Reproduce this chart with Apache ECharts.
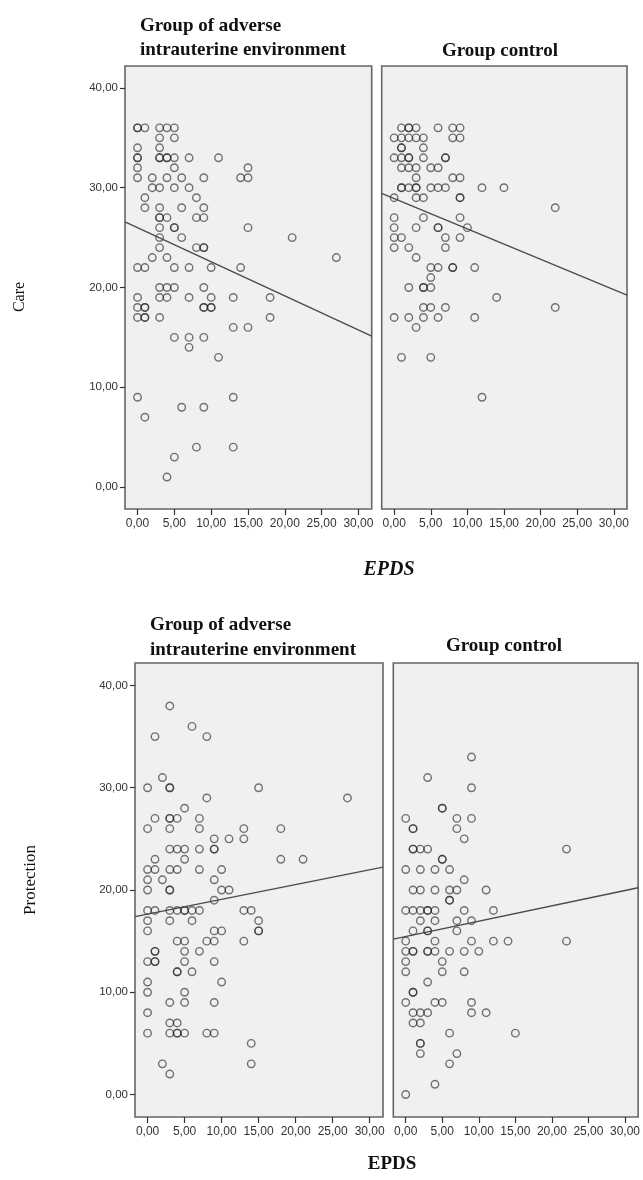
<!DOCTYPE html>
<html>
<head>
<meta charset="utf-8">
<script src="https://cdn.jsdelivr.net/npm/echarts@6/dist/echarts.min.js"></script>
<style>
html,body{margin:0;padding:0;background:#ffffff;}
#chart{width:643px;height:1180px;}
</style>
</head>
<body>
<div id="chart"></div>
<script>
// ---------- DATA ----------
var groupTitles = ['Group of adverse\nintrauterine environment', 'Group control'];
var yAxisNames = ['Care', 'Protection'];
var xAxisName = 'EPDS';
var xTicks = [0, 5, 10, 15, 20, 25, 30];
var yTicks = [0, 10, 20, 30, 40];

// [EPDS, Care] – adverse intrauterine environment
var careAdverse = [
  [0,36],[0,36],[1,36],[3,36],[4,36],[5,36],
  [3,35],[5,35],
  [0,34],[3,34],
  [0,33],[0,33],[3,33],[3,33],[4,33],[4,33],[5,33],[7,33],[11,33],
  [0,32],[5,32],[15,32],
  [0,31],[2,31],[4,31],[6,31],[9,31],[14,31],[15,31],
  [2,30],[3,30],[5,30],[7,30],
  [1,29],[8,29],
  [1,28],[3,28],[6,28],[9,28],
  [3,27],[3,27],[4,27],[8,27],[9,27],
  [3,26],[5,26],[5,26],[15,26],
  [3,25],[6,25],[21,25],
  [3,24],[8,24],[9,24],[9,24],
  [2,23],[4,23],[27,23],
  [0,22],[1,22],[5,22],[7,22],[10,22],[14,22],
  [3,20],[4,20],[5,20],[9,20],
  [0,19],[3,19],[4,19],[7,19],[10,19],[13,19],[18,19],
  [0,18],[1,18],[1,18],[9,18],[9,18],[10,18],[10,18],
  [0,17],[1,17],[1,17],[3,17],[18,17],
  [13,16],[15,16],
  [5,15],[7,15],[9,15],
  [7,14],
  [11,13],
  [0,9],[13,9],
  [6,8],[9,8],
  [1,7],
  [8,4],[13,4],
  [5,3],
  [4,1]
];

// [EPDS, Care] – control group
var careControl = [
  [1,36],[2,36],[2,36],[3,36],[6,36],[8,36],[9,36],
  [0,35],[1,35],[2,35],[3,35],[4,35],[8,35],[9,35],
  [1,34],[1,34],[4,34],
  [0,33],[1,33],[2,33],[2,33],[4,33],[7,33],[7,33],
  [1,32],[2,32],[3,32],[5,32],[6,32],
  [3,31],[8,31],[9,31],
  [1,30],[1,30],[2,30],[3,30],[3,30],[5,30],[6,30],[7,30],[12,30],[15,30],
  [0,29],[3,29],[4,29],[9,29],[9,29],
  [22,28],
  [0,27],[4,27],[9,27],
  [0,26],[3,26],[6,26],[6,26],[10,26],
  [0,25],[1,25],[7,25],[9,25],
  [0,24],[2,24],[7,24],
  [3,23],
  [5,22],[6,22],[8,22],[8,22],[11,22],
  [5,21],
  [2,20],[4,20],[4,20],[5,20],
  [14,19],
  [4,18],[5,18],[7,18],[22,18],
  [0,17],[2,17],[4,17],[6,17],[11,17],
  [3,16],
  [1,13],[5,13],
  [12,9]
];

// [EPDS, Protection] – adverse intrauterine environment
var protAdverse = [
  [3,38],
  [6,36],
  [1,35],[8,35],
  [2,31],
  [0,30],[3,30],[3,30],[15,30],
  [8,29],[27,29],
  [5,28],
  [1,27],[3,27],[3,27],[4,27],[7,27],
  [0,26],[3,26],[7,26],[13,26],[18,26],
  [9,25],[11,25],[13,25],
  [3,24],[4,24],[5,24],[7,24],[9,24],[9,24],
  [1,23],[5,23],[18,23],[21,23],
  [0,22],[1,22],[3,22],[4,22],[7,22],[10,22],
  [0,21],[2,21],[9,21],
  [0,20],[3,20],[3,20],[10,20],[11,20],
  [9,19],
  [0,18],[1,18],[3,18],[4,18],[5,18],[5,18],[6,18],[7,18],[13,18],[14,18],
  [0,17],[3,17],[6,17],[15,17],
  [0,16],[9,16],[10,16],[15,16],[15,16],
  [4,15],[5,15],[8,15],[9,15],[13,15],
  [1,14],[1,14],[5,14],[7,14],
  [0,13],[1,13],[1,13],[5,13],[9,13],
  [4,12],[4,12],[6,12],
  [0,11],[10,11],
  [0,10],[5,10],
  [3,9],[5,9],[9,9],
  [0,8],
  [3,7],[4,7],
  [0,6],[3,6],[4,6],[4,6],[5,6],[8,6],[9,6],
  [14,5],
  [2,3],[14,3],
  [3,2]
];

// [EPDS, Protection] – control group
var protControl = [
  [9,33],
  [3,31],
  [9,30],
  [5,28],[5,28],
  [0,27],[7,27],[9,27],
  [1,26],[1,26],[7,26],
  [8,25],
  [1,24],[1,24],[2,24],[3,24],[22,24],
  [5,23],[5,23],
  [0,22],[2,22],[4,22],[6,22],
  [8,21],
  [1,20],[2,20],[4,20],[6,20],[7,20],[11,20],
  [6,19],[6,19],
  [0,18],[1,18],[2,18],[3,18],[3,18],[4,18],[8,18],[12,18],
  [2,17],[4,17],[7,17],[9,17],
  [1,16],[3,16],[3,16],[7,16],
  [0,15],[4,15],[9,15],[12,15],[14,15],[22,15],
  [0,14],[1,14],[1,14],[3,14],[3,14],[4,14],[6,14],[8,14],[10,14],
  [0,13],[5,13],
  [0,12],[5,12],[8,12],
  [3,11],
  [1,10],[1,10],
  [0,9],[4,9],[5,9],[9,9],
  [1,8],[2,8],[3,8],[9,8],[11,8],
  [1,7],[2,7],
  [6,6],[15,6],
  [2,5],[2,5],
  [2,4],[7,4],
  [6,3],
  [4,1],
  [0,0]
];

// fitted lines as drawn: [intercept, slope]
var careAdverseFit = [26.0, -0.342];
var careControlFit = [28.91, -0.3045];
var protAdverseFit = [17.65, 0.144];
var protControlFit = [15.45, 0.150];

// ---------- CHART ----------
var X_MIN = -1.7, X_MAX = 31.8, Y_MIN = -2.2, Y_MAX = 42.2;
var tickFmt = function (v) { return Number(v).toFixed(2).replace('.', ','); };

var grids = [
  {left: 125,   top: 66,  width: 246.7, height: 443},
  {left: 381.7, top: 66,  width: 245.3, height: 443},
  {left: 135,   top: 663, width: 248,   height: 454},
  {left: 393.3, top: 663, width: 249,   height: 454}
];
grids.forEach(function (g) {
  g.show = true; g.backgroundColor = '#f0f0f0';
  g.borderColor = '#666666'; g.borderWidth = 1.6; g.containLabel = false;
});

var xAxes = grids.map(function (g, i) {
  return {
    type: 'value', gridIndex: i, min: X_MIN, max: X_MAX, position: 'bottom',
    axisLine: {show: false, onZero: false},
    splitLine: {show: false},
    axisTick: {show: true, length: 6, customValues: xTicks, lineStyle: {color: '#333', width: 1.2}},
    axisLabel: {show: true, customValues: xTicks, formatter: tickFmt, margin: 9,
      fontFamily: 'Liberation Sans', fontSize: 12, color: '#333'}
  };
});
var yAxes = grids.map(function (g, i) {
  var left = (i % 2 === 0);
  return {
    type: 'value', gridIndex: i, min: Y_MIN, max: Y_MAX, position: 'left',
    axisLine: {show: false, onZero: false},
    splitLine: {show: false},
    axisTick: {show: left, length: 5, customValues: yTicks, lineStyle: {color: '#333', width: 1.2}},
    axisLabel: {show: left, customValues: yTicks, formatter: tickFmt, margin: 7,
      fontFamily: 'Liberation Sans', fontSize: 11.5, color: '#333'}
  };
});

var sets = [careAdverse, careControl, protAdverse, protControl];
var fits = [careAdverseFit, careControlFit, protAdverseFit, protControlFit];

var series = [];
sets.forEach(function (d, i) {
  series.push({
    type: 'scatter', xAxisIndex: i, yAxisIndex: i, data: d,
    symbol: 'circle', symbolSize: 7.5, silent: true,
    itemStyle: {color: 'rgba(255,255,255,0)', borderColor: 'rgba(40,40,40,0.8)', borderWidth: 1.4}
  });
  var f = fits[i];
  series.push({
    type: 'line', xAxisIndex: i, yAxisIndex: i, silent: true,
    data: [[X_MIN, f[0] + f[1] * X_MIN], [X_MAX, f[0] + f[1] * X_MAX]],
    symbol: 'none', lineStyle: {color: '#4a4a4a', width: 1.3}, clip: true
  });
});

var serif = 'Liberation Serif';
var graphic = [
  // top row titles
  {type: 'text', left: 140, top: 14, style: {text: groupTitles[0], font: 'bold 19px "' + serif + '"', fill: '#111', lineHeight: 24}},
  {type: 'text', left: 442, top: 42, style: {text: groupTitles[1], font: 'bold 19px "' + serif + '"', fill: '#111'}},
  // bottom row titles
  {type: 'text', left: 150, top: 613, style: {text: groupTitles[0], font: 'bold 19px "' + serif + '"', fill: '#111', lineHeight: 25}},
  {type: 'text', left: 446, top: 637, style: {text: groupTitles[1], font: 'bold 19px "' + serif + '"', fill: '#111'}},
  // y names
  {type: 'text', x: 20, y: 297, rotation: Math.PI / 2,
    style: {text: yAxisNames[0], font: '16px "' + serif + '"', fill: '#111', align: 'center', verticalAlign: 'middle'}},
  {type: 'text', x: 31, y: 880, rotation: Math.PI / 2,
    style: {text: yAxisNames[1], font: '17px "' + serif + '"', fill: '#111', align: 'center', verticalAlign: 'middle'}},
  // x names
  {type: 'text', x: 389, y: 570,
    style: {text: xAxisName, font: 'italic bold 20px "' + serif + '"', fill: '#111', align: 'center', verticalAlign: 'middle'}},
  {type: 'text', x: 392, y: 1164,
    style: {text: xAxisName, font: 'bold 19px "' + serif + '"', fill: '#111', align: 'center', verticalAlign: 'middle'}}
];

var chart = echarts.init(document.getElementById('chart'), null, {renderer: 'canvas'});
chart.setOption({
  animation: false,
  backgroundColor: '#ffffff',
  grid: grids,
  xAxis: xAxes,
  yAxis: yAxes,
  series: series,
  graphic: graphic
});
</script>
</body>
</html>
